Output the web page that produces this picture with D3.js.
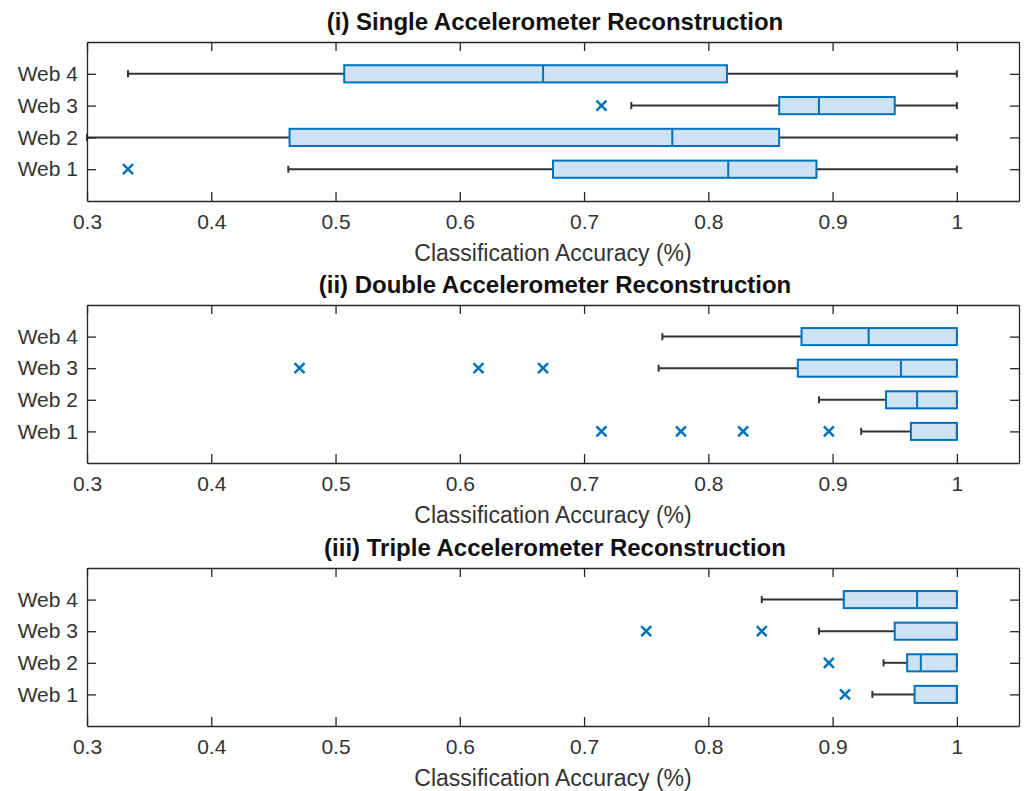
<!DOCTYPE html>
<html>
<head>
<meta charset="utf-8">
<script src="https://cdn.jsdelivr.net/npm/d3@7"></script>
<style>
  body { margin: 0; background: #fff; }
  svg { font-family: "Liberation Sans", Arial, sans-serif; }
</style>
</head>
<body>
<svg></svg>
<script>
// categories and titles
const webs = ["Web 1", "Web 2", "Web 3", "Web 4"]
const titles = [
  "(i) Single Accelerometer Reconstruction",
  "(ii) Double Accelerometer Reconstruction",
  "(iii) Triple Accelerometer Reconstruction"
]
const xTicks = [0.3, 0.4, 0.5, 0.6, 0.7, 0.8, 0.9, 1]

// box stats per web: [lo whisker, q1, median, q3, hi whisker]
const singleBoxes = [
  [0.462, 0.675, 0.816, 0.887, 1],
  [0.300, 0.463, 0.771, 0.857, 1],
  [0.738, 0.857, 0.889, 0.950, 1],
  [0.333, 0.507, 0.667, 0.815, 1]
]
const singleOutliers = [[0.333], [], [0.714], []]

const doubleBoxes = [
  [0.923, 0.963, 1, 1, 1],
  [0.889, 0.943, 0.968, 1, 1],
  [0.760, 0.872, 0.955, 1, 1],
  [0.763, 0.875, 0.929, 1, 1]
]
const doubleOutliers = [[0.714, 0.778, 0.828, 0.897], [], [0.471, 0.615, 0.667], []]

const tripleBoxes = [
  [0.932, 0.966, 1, 1, 1],
  [0.941, 0.960, 0.971, 1, 1],
  [0.889, 0.950, 1, 1, 1],
  [0.843, 0.909, 0.968, 1, 1]
]
const tripleOutliers = [[0.910], [0.897], [0.750, 0.843], []]

const panels = [
  { title: titles[0], boxes: singleBoxes, outliers: singleOutliers, top: 42, bottom: 201 },
  { title: titles[1], boxes: doubleBoxes, outliers: doubleOutliers, top: 305, bottom: 463 },
  { title: titles[2], boxes: tripleBoxes, outliers: tripleOutliers, top: 568, bottom: 726 }
]

const width = 1033
const height = 791
const left = 87, right = 1019
const blue = "#0072BD"
const axisColor = "#262626"

const svg = d3.select("svg")
  .attr("width", width)
  .attr("height", height)

const x = d3.scaleLinear().domain([0.3, 1.05]).range([left, right])

panels.forEach(p => {
  const y = d3.scaleLinear().domain([0, 5]).range([p.bottom, p.top])
  const half = y(0) - y(0.27)
  const cap = 3.5
  const g = svg.append("g")

  // boxes
  p.boxes.forEach((b, i) => {
    const cy = y(i + 1)
    // whiskers
    g.append("line")
      .attr("x1", x(b[0])).attr("x2", x(b[1]))
      .attr("y1", cy).attr("y2", cy)
      .attr("stroke", "#333").attr("stroke-width", 2)
    g.append("line")
      .attr("x1", x(b[3])).attr("x2", x(b[4]))
      .attr("y1", cy).attr("y2", cy)
      .attr("stroke", "#333").attr("stroke-width", 2)
    // caps
    ;[b[0], b[4]].forEach(v => {
      g.append("line")
        .attr("x1", x(v)).attr("x2", x(v))
        .attr("y1", cy - cap).attr("y2", cy + cap)
        .attr("stroke", "#333").attr("stroke-width", 2)
    })
    g.append("rect")
      .attr("x", x(b[1])).attr("y", cy - half)
      .attr("width", x(b[3]) - x(b[1])).attr("height", 2 * half)
      .attr("fill", "#cde2f2")
      .attr("stroke", blue).attr("stroke-width", 2)
    g.append("line")
      .attr("x1", x(b[2])).attr("x2", x(b[2]))
      .attr("y1", cy - half).attr("y2", cy + half)
      .attr("stroke", blue).attr("stroke-width", 2)

    // outliers
    p.outliers[i].forEach(v => {
      const s = 5
      g.append("path")
        .attr("d", `M${x(v) - s},${cy - s}L${x(v) + s},${cy + s}M${x(v) - s},${cy + s}L${x(v) + s},${cy - s}`)
        .attr("stroke", blue).attr("stroke-width", 2.5)
        .attr("fill", "none")
    })
  })

  // axes, ticks point inward on every side
  g.append("g")
    .attr("transform", `translate(0,${p.bottom})`)
    .call(d3.axisBottom(x).tickValues(xTicks).tickSizeInner(-9).tickSizeOuter(0).tickPadding(13.5)
      .tickFormat(d => d3.format("")(d)))
  g.append("g")
    .attr("transform", `translate(0,${p.top})`)
    .call(d3.axisTop(x).tickValues(xTicks).tickSizeInner(-9).tickSizeOuter(0).tickFormat(""))
  g.append("g")
    .attr("transform", `translate(${left},0)`)
    .call(d3.axisLeft(y).tickValues([1, 2, 3, 4]).tickSizeInner(-9).tickSizeOuter(0).tickPadding(9)
      .tickFormat(d => webs[d - 1]))
  g.append("g")
    .attr("transform", `translate(${right},0)`)
    .call(d3.axisRight(y).tickValues([1, 2, 3, 4]).tickSizeInner(-9).tickSizeOuter(0).tickFormat(""))

  g.selectAll(".domain").attr("stroke", axisColor).attr("stroke-width", 1.3)
  g.selectAll(".tick line").attr("stroke", axisColor).attr("stroke-width", 1.3)
  g.selectAll(".tick text")
    .attr("fill", "#333")
    .style("font-size", "21px")

  // title and x label
  g.append("text")
    .attr("x", (left + right) / 2 + 2)
    .attr("y", p.top - 12)
    .attr("text-anchor", "middle")
    .style("font-size", "24px")
    .style("font-weight", "bold")
    .attr("fill", "#111")
    .text(p.title)

  g.append("text")
    .attr("x", (left + right) / 2)
    .attr("y", p.bottom + 60)
    .attr("text-anchor", "middle")
    .style("font-size", "23px")
    .attr("fill", "#333")
    .text("Classification Accuracy (%)")
})
</script>
</body>
</html>
